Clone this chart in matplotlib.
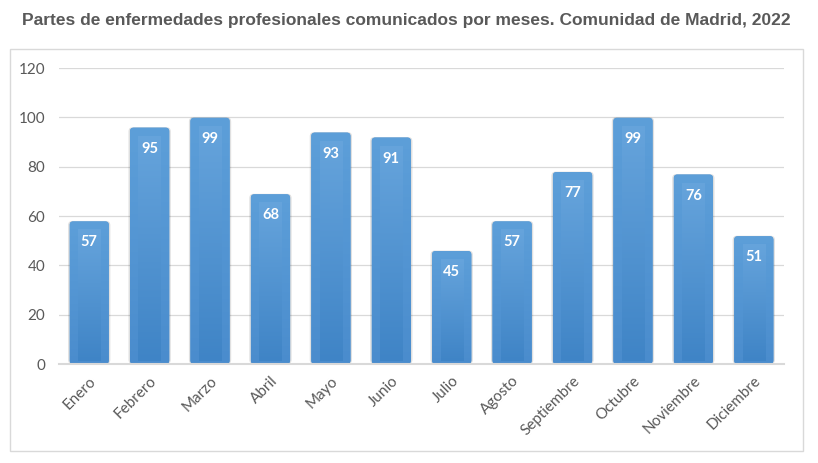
import numpy as np
import matplotlib
matplotlib.use("Agg")
import matplotlib.pyplot as plt
from matplotlib.patches import FancyBboxPatch, Rectangle
from matplotlib.colors import LinearSegmentedColormap

# datos
meses = ["Enero", "Febrero", "Marzo", "Abril", "Mayo", "Junio", "Julio",
         "Agosto", "Septiembre", "Octubre", "Noviembre", "Diciembre"]
partes = [57, 95, 99, 68, 93, 91, 45, 57, 77, 99, 76, 51]
titulo = "Partes de enfermedades profesionales comunicados por meses. Comunidad de Madrid, 2022"

gris_texto = "#595959"
gris_linea = "#d9d9d9"

fig = plt.figure(figsize=(8.18, 4.63), dpi=100)
fig.patch.set_facecolor("white")

# marco del grafico
fig.add_artist(Rectangle((10 / 818, 1 - 451 / 463), 793 / 818, 402 / 463,
                         transform=fig.transFigure, fill=False,
                         edgecolor=gris_linea, linewidth=1.0))

fig.text(0.497, 1 - 21 / 463, titulo, ha="center", va="center",
         fontsize=12.5, fontweight="bold", color=gris_texto, family="Liberation Sans")

ax = fig.add_axes([59 / 818, 1 - 364 / 463, 725 / 818, 296 / 463])

x = np.arange(len(meses))
ancho = 0.65
ymax = 120
# relacion px por unidad para que las esquinas sean redondas
px_x = 725 / 12
px_y = 296 / ymax
aspecto = px_x / px_y

cmap_ext = LinearSegmentedColormap.from_list("ext", ["#4a8ccd", "#5d9fd9"])
cmap_int = LinearSegmentedColormap.from_list("int", ["#3f84c6", "#66a4dc"])
grad = np.linspace(0, 1, 256).reshape(-1, 1)

for xi, v in zip(x, partes):
    # sombra
    sombra = FancyBboxPatch((xi - ancho / 2 - 0.025, 0), ancho + 0.05, v + 1.0,
                            boxstyle="round,pad=0,rounding_size=0.07",
                            mutation_aspect=aspecto, facecolor="#000000",
                            alpha=0.12, edgecolor="none", zorder=2)
    ax.add_patch(sombra)
    ext = FancyBboxPatch((xi - ancho / 2, 0), ancho, v + 0.8,
                         boxstyle="round,pad=0,rounding_size=0.06",
                         mutation_aspect=aspecto, facecolor="#5b9bd5",
                         edgecolor="none", zorder=3)
    ax.add_patch(ext)
    im = ax.imshow(grad, cmap=cmap_ext, origin="lower", aspect="auto",
                   extent=(xi - ancho / 2, xi + ancho / 2, 0, v + 0.8), zorder=3)
    im.set_clip_path(ext)
    inset_x = 8.5 / px_x
    inset_top = 8 / px_y
    inset_bot = 3 / px_y
    inner = Rectangle((xi - ancho / 2 + inset_x, inset_bot), ancho - 2 * inset_x,
                      v + 0.8 - inset_top - inset_bot, facecolor="none", edgecolor="none", zorder=4)
    ax.add_patch(inner)
    im2 = ax.imshow(grad, cmap=cmap_int, origin="lower", aspect="auto",
                    extent=(xi - ancho / 2 + inset_x, xi + ancho / 2 - inset_x,
                            inset_bot, v + 0.8 - inset_top), zorder=4)
    im2.set_clip_path(inner)
    ax.text(xi, v - 8 / px_y - 11 / px_y, str(v), ha="center", va="center",
            color="white", fontsize=10.5, fontweight="bold", family="Lato", zorder=5)

ax.set_xlim(-0.5, len(meses) - 0.5)
ax.set_ylim(0, ymax)
ax.set_yticks(range(0, ymax + 1, 20))
ax.set_xticks(x)
ax.set_xticklabels(meses, rotation=45, ha="right", rotation_mode="anchor")
ax.tick_params(axis="both", length=0, colors=gris_texto, labelsize=11)
ax.tick_params(axis="x", pad=7)
ax.tick_params(axis="y", pad=10)
for lab in ax.get_xticklabels() + ax.get_yticklabels():
    lab.set_family("Lato")
    lab.set_color(gris_texto)

ax.grid(axis="y", color=gris_linea, linewidth=0.9, zorder=0)
ax.set_axisbelow(True)
for s in ["top", "right", "left"]:
    ax.spines[s].set_visible(False)
ax.spines["bottom"].set_color(gris_linea)
ax.spines["bottom"].set_linewidth(1.5)
ax.spines["bottom"].set_zorder(6)

fig.savefig("out.png", dpi=100)
